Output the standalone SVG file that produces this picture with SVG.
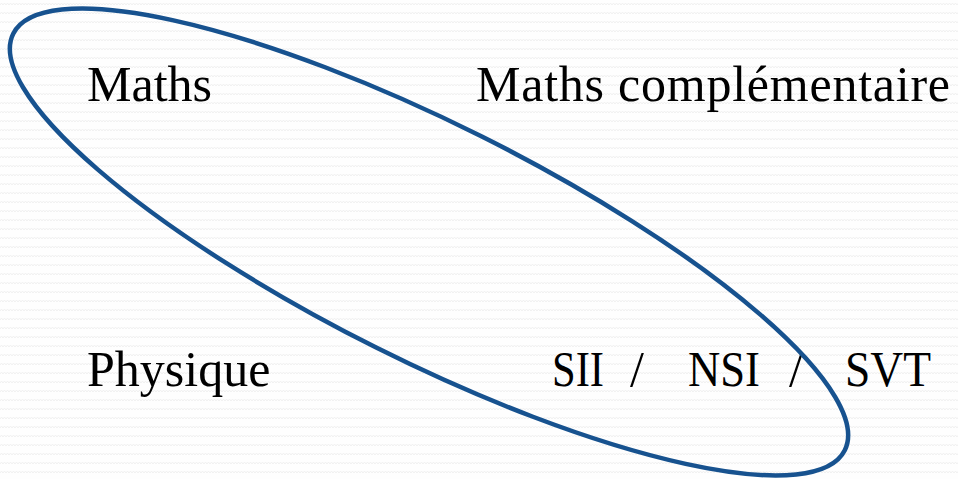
<svg xmlns="http://www.w3.org/2000/svg" width="958" height="479" viewBox="0 0 958 479">
<style>
.lbl{font-family:"Liberation Serif","Times New Roman",serif;font-size:50px;fill:#000}
.ring{fill:none;stroke:#17528f;stroke-width:4.5}
</style>
<defs>
<pattern id="bg" width="6" height="9" patternUnits="userSpaceOnUse">
<rect width="6" height="9" fill="#fefefe"/>
<path d="M0,5 L1.5,3 L3,5 L4.5,3 L6,5" fill="none" stroke="#f1f1f1" stroke-width="1"/>
</pattern>
</defs>
<rect width="958" height="479" fill="url(#bg)"/>
<g id="node-maths"><text class="lbl" x="87" y="101">Maths</text></g>
<g id="node-maths-comp"><text class="lbl" x="476" y="101" textLength="474" lengthAdjust="spacing">Maths complémentaire</text></g>
<g id="node-physique"><text class="lbl" x="87" y="386">Physique</text></g>
<g id="node-options">
<text class="lbl" x="552" y="386" textLength="52" lengthAdjust="spacingAndGlyphs">SII</text>
<text class="lbl" x="630" y="386">/</text>
<text class="lbl" x="688" y="386" textLength="72" lengthAdjust="spacingAndGlyphs">NSI</text>
<text class="lbl" x="789" y="386">/</text>
<text class="lbl" x="845" y="386" textLength="86" lengthAdjust="spacingAndGlyphs">SVT</text>
</g>
<g id="connectors">
<ellipse class="ring" cx="429" cy="242" rx="465" ry="118" transform="rotate(26.6 429 242)"/>
</g>
</svg>
